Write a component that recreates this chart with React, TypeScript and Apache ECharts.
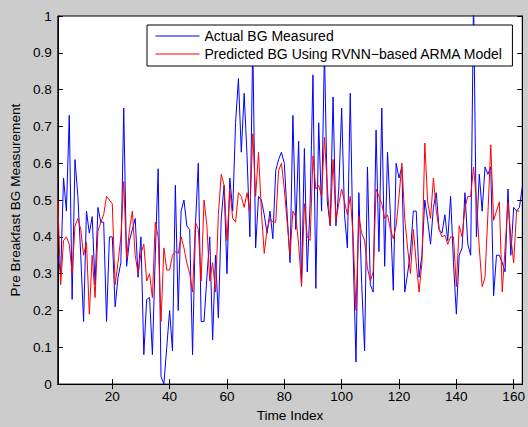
import React, { useEffect, useRef } from "react";
import * as echarts from "echarts";

const actualBG: number[] = [
  0.35, 0.30, 0.56, 0.47, 0.73, 0.23, 0.61, 0.51, 0.35, 0.17,
  0.47, 0.41, 0.455, 0.27, 0.48, 0.44, 0.44, 0.17, 0.40, 0.40,
  0.21, 0.29, 0.33, 0.75, 0.32, 0.39, 0.42, 0.45, 0.29, 0.40,
  0.08, 0.23, 0.235, 0.08, 0.35, 0.585, 0.02, 0.0, 0.10, 0.20,
  0.09, 0.54, 0.20, 0.47, 0.50, 0.43, 0.42, 0.08, 0.43, 0.60,
  0.17, 0.17, 0.29, 0.40, 0.12, 0.35, 0.18, 0.45, 0.54, 0.30,
  0.56, 0.47, 0.71, 0.83, 0.63, 0.79, 0.62, 0.40, 0.93, 0.37,
  0.51, 0.50, 0.46, 0.41, 0.47, 0.395, 0.58, 0.61, 0.63, 0.60,
  0.46, 0.33, 0.73, 0.42, 0.66, 0.27, 0.64, 0.305, 0.49, 0.84,
  0.26, 0.71, 0.47, 0.91, 0.495, 0.43, 0.78, 0.43, 0.53, 0.75,
  0.46, 0.37, 0.79, 0.355, 0.06, 0.52, 0.27, 0.09, 0.59, 0.27,
  0.25, 0.69, 0.36, 0.75, 0.32, 0.63, 0.46, 0.255, 0.60, 0.56,
  0.59, 0.25, 0.30, 0.36, 0.47, 0.47, 0.29, 0.35, 0.50, 0.445,
  0.38, 0.48, 0.52, 0.42, 0.41, 0.46, 0.39, 0.51, 0.33, 0.19,
  0.35, 0.37, 0.52, 0.38, 0.35, 1.05, 0.40, 0.57, 0.47, 0.59,
  0.57, 0.59, 0.24, 0.35, 0.35, 0.33, 0.305, 0.53, 0.35, 0.48,
  0.47, 0.48, 0.535,
];

const predictedBG: number[] = [
  0.50, 0.27, 0.39, 0.40, 0.38, 0.30, 0.43, 0.45, 0.42, 0.35,
  0.385, 0.19, 0.35, 0.235, 0.415, 0.44, 0.46, 0.51, 0.50, 0.49,
  0.27, 0.33, 0.40, 0.55, 0.34, 0.42, 0.47, 0.35, 0.30, 0.355,
  0.38, 0.28, 0.30, 0.235, 0.44, 0.40, 0.17, 0.37, 0.31, 0.31,
  0.35, 0.36, 0.355, 0.40, 0.37, 0.33, 0.30, 0.25, 0.44, 0.42,
  0.28, 0.50, 0.43, 0.28, 0.33, 0.25, 0.46, 0.57, 0.54, 0.39,
  0.53, 0.45, 0.44, 0.52, 0.51, 0.48, 0.52, 0.47, 0.68, 0.51,
  0.63, 0.47, 0.355, 0.42, 0.45, 0.44, 0.44, 0.58, 0.60, 0.53,
  0.44, 0.35, 0.47, 0.455, 0.38, 0.265, 0.49, 0.40, 0.39, 0.62,
  0.53, 0.54, 0.51, 0.67, 0.535, 0.43, 0.61, 0.445, 0.49, 0.53,
  0.495, 0.46, 0.51, 0.40, 0.20, 0.455, 0.41, 0.39, 0.315, 0.28,
  0.305, 0.53, 0.51, 0.49, 0.45, 0.46, 0.42, 0.395, 0.43, 0.51,
  0.60, 0.45, 0.37, 0.30, 0.42, 0.33, 0.25, 0.33, 0.655, 0.495,
  0.45, 0.56, 0.47, 0.42, 0.40, 0.405, 0.38, 0.40, 0.40, 0.265,
  0.43, 0.40, 0.48, 0.51, 0.51, 0.59, 0.50, 0.37, 0.265, 0.29,
  0.46, 0.65, 0.445, 0.47, 0.495, 0.25, 0.37, 0.495, 0.40, 0.33,
  0.47, 0.47,
];

const xTicks: number[] = [20, 40, 60, 80, 100, 120, 140, 160];
const seriesNames: string[] = [
  "Actual BG Measured",
  "Predicted BG Using RVNN\u2212based ARMA Model",
];

const FONT = "'Liberation Sans', Arial, Helvetica, sans-serif";
const FS = 13.6;
const LEGEND_FS = 14;

export default function App() {
  const ref = useRef<HTMLDivElement>(null);
  useEffect(() => {
    if (!ref.current) return;
    const chart = echarts.init(ref.current, undefined, { renderer: "svg" });
    const xMax = actualBG.length;
    const axisCommon = {
      axisLine: { show: true, lineStyle: { color: "#000", width: 1 } },
      axisTick: { show: true, inside: true, length: 5, lineStyle: { color: "#000" } },
      splitLine: { show: false },
    };
    chart.setOption({
      animation: false,
      backgroundColor: "#cccccc",
      textStyle: { fontFamily: FONT },
      grid: {
        left: 56,
        top: 16,
        right: 5,
        bottom: 41,
        show: true,
        backgroundColor: "#ffffff",
        borderColor: "#000",
        borderWidth: 1,
      },
      legend: {
        left: 147,
        top: 25,
        orient: "vertical",
        backgroundColor: "#ffffff",
        borderColor: "#000",
        borderWidth: 1,
        borderRadius: 0,
        padding: [4, 9, 5, 8],
        itemWidth: 44,
        itemHeight: 14,
        itemGap: 4,
        itemStyle: { opacity: 0 },
        lineStyle: { width: 1 },
        textStyle: { fontSize: LEGEND_FS, color: "#000", fontFamily: FONT },
        data: seriesNames,
      },
      xAxis: [
        {
          type: "value",
          min: 1,
          max: xMax,
          ...axisCommon,
          axisTick: { ...axisCommon.axisTick, customValues: xTicks },
          axisLabel: { customValues: xTicks, color: "#000", fontSize: FS, margin: 5, fontFamily: FONT },
          name: "Time Index",
          nameLocation: "middle",
          nameGap: 19,
          nameTextStyle: { color: "#000", fontSize: FS, fontFamily: FONT },
        },
        {
          type: "value",
          position: "top",
          min: 1,
          max: xMax,
          ...axisCommon,
          axisTick: { ...axisCommon.axisTick, customValues: xTicks },
          axisLabel: { show: false, customValues: xTicks },
        },
      ],
      yAxis: [
        {
          type: "value",
          min: 0,
          max: 1,
          interval: 0.1,
          ...axisCommon,
          axisLabel: {
            color: "#000",
            fontSize: FS,
            margin: 6,
            fontFamily: FONT,
            formatter: (v: number) => String(Math.round(v * 10) / 10),
          },
          name: "Pre Breakfast BG Measurement",
          nameLocation: "middle",
          nameGap: 32,
          nameTextStyle: { color: "#000", fontSize: FS, fontFamily: FONT },
        },
        {
          type: "value",
          position: "right",
          min: 0,
          max: 1,
          interval: 0.1,
          ...axisCommon,
          axisLabel: { show: false },
        },
      ],
      series: [
        {
          name: seriesNames[0],
          type: "line",
          symbol: "none",
          clip: true,
          lineStyle: { color: "#0000ff", width: 1 },
          itemStyle: { color: "#0000ff" },
          data: actualBG.map((v, i) => [i + 1, v]),
        },
        {
          name: seriesNames[1],
          type: "line",
          symbol: "none",
          clip: true,
          lineStyle: { color: "#ff0000", width: 1 },
          itemStyle: { color: "#ff0000" },
          data: predictedBG.map((v, i) => [i + 1, v]),
        },
      ],
    });
    return () => chart.dispose();
  }, []);
  return (
    <div
      ref={ref}
      style={{ position: "absolute", left: 0, top: 0, width: 528, height: 427 }}
    />
  );
}
